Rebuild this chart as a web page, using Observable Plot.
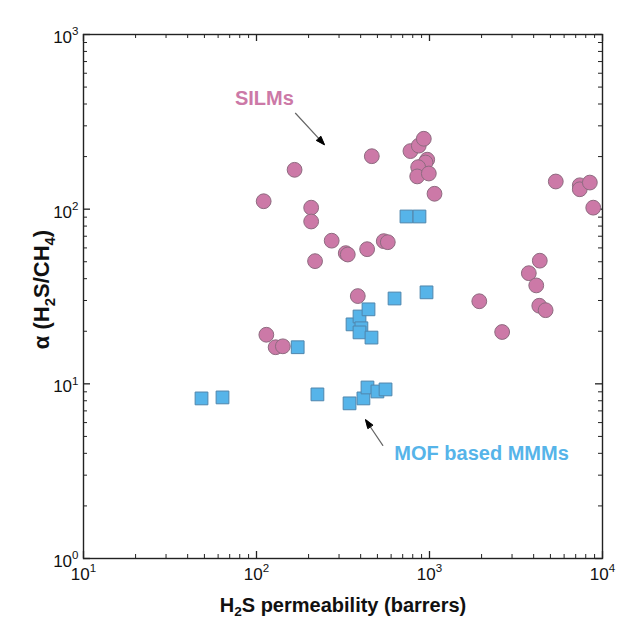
<!DOCTYPE html>
<html><head><meta charset="utf-8">
<script src="https://cdn.jsdelivr.net/npm/d3@7"></script>
<script src="https://cdn.jsdelivr.net/npm/@observablehq/plot@0.6"></script>
<style>
body{margin:0;background:#fff;}
#chart svg{font-family:"Liberation Sans",Arial,sans-serif;overflow:visible;}
</style>
</head><body><div id="chart"></div>
<script>
// ---- data ----
const silmPerm = [110,166,207,207,272,218,328,337,436,544,574,464,776,867,927,970,948,860,849,991,1069,385,114,129,142,5370,7390,7390,8450,8840,4340,3750,4140,4310,4690,1940,2630];
const silmSel  = [111,168,102,85,66,50.4,56,55,59,65.6,64.7,201,215,231,253,192,185,174,154,160,122.5,31.8,19.1,16.2,16.4,144,137,130,142,102,50.7,43,36.6,28,26.4,29.7,19.8];
const mofPerm = [48.1,63.6,173,225,345,415,438,500,557,359,394,404,394,444,462,628,961,736,875];
const mofSel  = [8.25,8.36,16.2,8.7,7.73,8.25,9.53,9.04,9.29,21.9,24.3,20.8,19.7,26.7,18.4,30.8,33.4,90.8,90.8];

const xMajor = [10,100,1000,10000];
const yMajor = [1,10,100,1000];
const xTickExp = ["1","2","3","4"];
const yTickExp = ["0","1","2","3"];

const annoText = ["SILMs","MOF based MMMs"];
const annoX = [111, 2000];
const annoY = [429, 4.01];
const annoColor = ["#cc79a7","#56b4e9"];
const arrowX1 = [168, 537], arrowY1 = [354, 4.44];
const arrowX2 = [247, 427], arrowY2 = [234, 6.23];

const xLabelParts = [["H",""],["2","sub"],["S permeability (barrers)",""]];
const yLabelParts = [["α (H",""],["2","sub"],["S/CH",""],["4","sub"],[")",""]];

// ---- derived tables ----
const silm = silmPerm.map((x,i)=>({x, y: silmSel[i]}));
const mof = mofPerm.map((x,i)=>({x, y: mofSel[i]}));
const annos = annoText.map((t,i)=>({t, x: annoX[i], y: annoY[i], c: annoColor[i]}));
const arrows = arrowX1.map((x1,i)=>({x1, y1: arrowY1[i], x2: arrowX2[i], y2: arrowY2[i]}));
const minorOf = (major) => major.slice(0,-1).flatMap(d => [2,3,4,5,6,7,8,9].map(k => k*d));
const xMinor = minorOf(xMajor), yMinor = minorOf(yMajor);
const plain = parts => parts.map(p=>p[0]).join("");

const W = 619, H = 621, mL = 83, mR = 17, mT = 34, mB = 63;
const pw = W - mL - mR, ph = H - mT - mB;
const majLen = 7, minLen = 4;
const axisColor = "#222";
const tickFont = 17, titleFont = 20, yTitleFont = 22, annoFont = 20;

const svg = Plot.plot({
  width: W, height: H,
  marginLeft: mL, marginRight: mR, marginTop: mT, marginBottom: mB,
  x: {type: "log", domain: [10, 10000], axis: null},
  y: {type: "log", domain: [1, 1000], axis: null},
  style: {fontFamily: "Liberation Sans, Arial, sans-serif", color: "#111", background: "#fff"},
  marks: [
    // inward ticks on all four sides
    Plot.ruleX(xMajor, {x: d=>d, insetTop: ph - majLen, stroke: axisColor, strokeWidth: 1.3}),
    Plot.ruleX(xMinor, {x: d=>d, insetTop: ph - minLen, stroke: axisColor, strokeWidth: 1}),
    Plot.ruleX(xMajor, {x: d=>d, insetBottom: ph - majLen, stroke: axisColor, strokeWidth: 1.3}),
    Plot.ruleX(xMinor, {x: d=>d, insetBottom: ph - minLen, stroke: axisColor, strokeWidth: 1}),
    Plot.ruleY(yMajor, {y: d=>d, insetRight: pw - majLen, stroke: axisColor, strokeWidth: 1.3}),
    Plot.ruleY(yMinor, {y: d=>d, insetRight: pw - minLen, stroke: axisColor, strokeWidth: 1}),
    Plot.ruleY(yMajor, {y: d=>d, insetLeft: pw - majLen, stroke: axisColor, strokeWidth: 1.3}),
    Plot.ruleY(yMinor, {y: d=>d, insetLeft: pw - minLen, stroke: axisColor, strokeWidth: 1}),
    // tick labels
    Plot.axisX({anchor: "bottom", ticks: xMajor, tickSize: 0, tickPadding: 9, tickFormat: () => "10", label: null, fontSize: tickFont, fill: "#111"}),
    Plot.axisY({anchor: "left", ticks: yMajor, tickSize: 0, tickPadding: 5, tickFormat: () => "10", label: null, fontSize: tickFont, fill: "#111", dy: 3}),
    // axis titles
    Plot.text([plain(xLabelParts)], {frameAnchor: "bottom", dy: 47, lineAnchor: "middle", textAnchor: "middle", text: d=>d, fontSize: titleFont, fontWeight: "bold", fill: "#111"}),
    Plot.text([plain(yLabelParts)], {frameAnchor: "left", dx: -42, dy: -7, rotate: -90, textAnchor: "middle", lineAnchor: "middle", text: d=>d, fontSize: yTitleFont, fontWeight: "bold", fill: "#111"}),
    // data
    Plot.dot(silm, {x: "x", y: "y", r: 7.4, fill: "#cc79a7", stroke: "#8e6b80", strokeWidth: 1}),
    Plot.dot(mof, {x: "x", y: "y", symbol: "square", r: 7.2, fill: "#56b4e9", stroke: "#4f86ad", strokeWidth: 1}),
    // annotations
    Plot.arrow(arrows, {x1: "x1", y1: "y1", x2: "x2", y2: "y2", stroke: "#666", strokeWidth: 1.2, headLength: 11, headAngle: 38}),
    Plot.text(annos, {x: "x", y: "y", text: "t", fill: "c", fontSize: annoFont, fontWeight: "bold"}),
    Plot.frame({stroke: axisColor, strokeWidth: 1.4})
  ]
});
document.getElementById("chart").appendChild(svg);

// ---- rich text (super/subscripts) ----
const NS = "http://www.w3.org/2000/svg";
function setRich(el, parts, base, subShift = 0.28) {
  el.textContent = "";
  el.setAttribute("font-size", base);
  let shift = 0;
  for (const [s, kind] of parts) {
    const t = document.createElementNS(NS, "tspan");
    t.textContent = s;
    const target = kind === "sub" ? base * subShift : kind === "sup" ? -base * 0.45 : 0;
    t.setAttribute("dy", target - shift);
    shift = target;
    if (kind) t.setAttribute("font-size", base * 0.68);
    el.appendChild(t);
  }
}
const texts = Array.from(svg.querySelectorAll("text"));
const xl = texts.find(t => t.textContent === plain(xLabelParts));
if (xl) setRich(xl, xLabelParts, titleFont, 0.22);
const yl = texts.find(t => t.textContent === plain(yLabelParts));
if (yl) setRich(yl, yLabelParts, yTitleFont);
svg.querySelectorAll('g[aria-label="x-axis tick label"] text').forEach((t, i) => setRich(t, [["10",""],[xTickExp[i],"sup"]], tickFont));
svg.querySelectorAll('g[aria-label="y-axis tick label"] text').forEach((t, i) => setRich(t, [["10",""],[yTickExp[i],"sup"]], tickFont));

// filled arrowheads: close the head of each arrow path into a filled triangle
svg.querySelectorAll('g[aria-label="arrow"] path').forEach(p => {
  const n = (p.getAttribute("d").match(/-?\d*\.?\d+(?:e[-+]?\d+)?/gi) || []).map(Number);
  if (n.length < 6) return;
  const h = n.slice(-6);
  const tri = document.createElementNS(NS, "path");
  tri.setAttribute("d", `M${h[0]},${h[1]}L${h[2]},${h[3]}L${h[4]},${h[5]}Z`);
  tri.setAttribute("fill", "#000");
  tri.setAttribute("stroke", "#000");
  tri.setAttribute("stroke-width", 1);
  p.parentNode.appendChild(tri);
});
</script>
</body></html>
